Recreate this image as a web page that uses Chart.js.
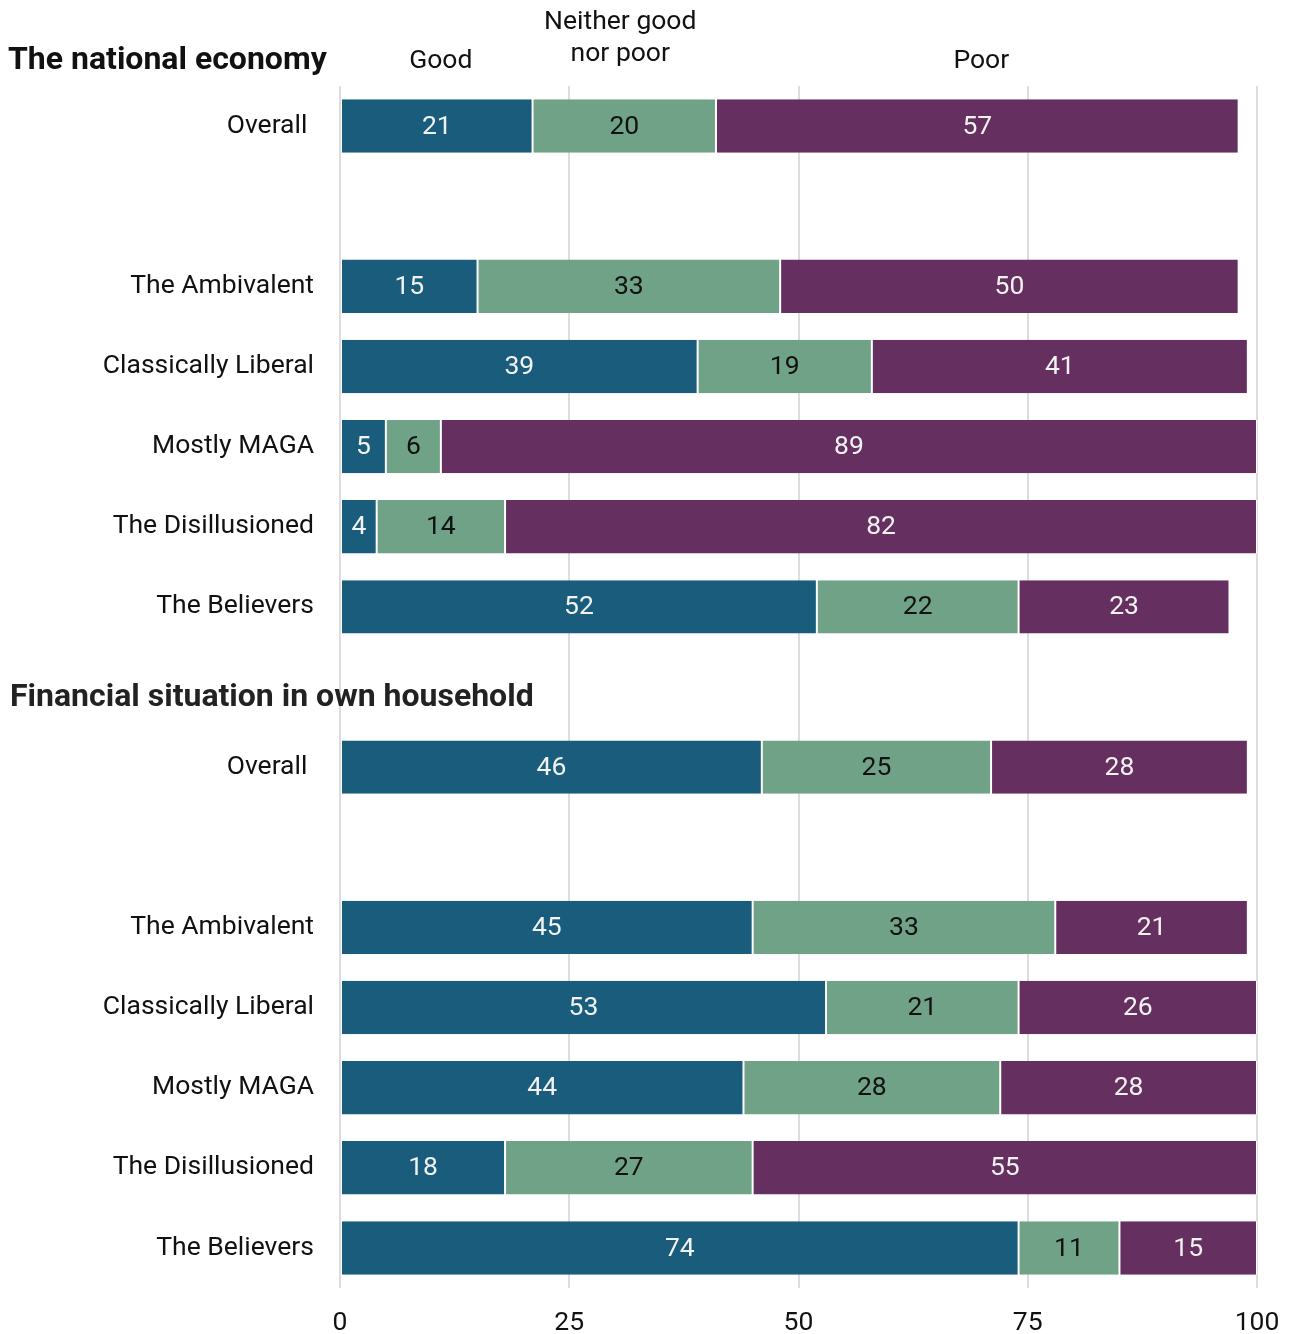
<!DOCTYPE html>
<html>
<head>
<meta charset="utf-8">
<script src="https://cdn.jsdelivr.net/npm/chart.js@4.4.1/dist/chart.umd.min.js"></script>
<style>
  html, body { margin: 0; padding: 0; background: #fff; }
  #wrap { width: 1294px; height: 1334px; position: relative; }
</style>
</head>
<body>
<div id="wrap"><canvas id="chart"></canvas></div>
<script>
// rows, empty strings are spacer rows between groups
const categories = [
  "Overall ", "", "The Ambivalent", "Classically Liberal", "Mostly MAGA", "The Disillusioned", "The Believers",
  "",
  "Overall ", "", "The Ambivalent", "Classically Liberal", "Mostly MAGA", "The Disillusioned", "The Believers"
];
const good    = [21, null, 15, 39, 5, 4, 52, null, 46, null, 45, 53, 44, 18, 74];
const neither = [20, null, 33, 19, 6, 14, 22, null, 25, null, 33, 21, 28, 27, 11];
const poor    = [57, null, 50, 41, 89, 82, 23, null, 28, null, 21, 26, 28, 55, 15];
const seriesNames = ["Good", "Neither good nor poor", "Poor"];
const headerLines = [["Good"], ["Neither good", "nor poor"], ["Poor"]];
const xTicks = [0, 25, 50, 75, 100];
const sectionTitles = ["The national economy", "Financial situation in own household"];
const sectionRows = [0, 7];

const colors = ["#195c7b", "#70a288", "#652f60"];
const labelColors = ["#f2f2f2", "#111", "#f2f2f2"];
const FONT = "Roboto, 'Noto Sans', sans-serif";
const SIZE = 26.5;

// value labels inside bars, column headers, section titles
const overlay = {
  id: "overlay",
  afterDatasetsDraw(chart) {
    const ctx = chart.ctx;
    ctx.save();
    ctx.font = SIZE + "px " + FONT;
    ctx.textAlign = "center";
    ctx.textBaseline = "middle";
    chart.data.datasets.forEach((ds, i) => {
      chart.getDatasetMeta(i).data.forEach((bar, j) => {
        const v = ds.data[j];
        if (v == null) return;
        const cx = (bar.x + bar.base) / 2;
        ctx.fillStyle = labelColors[i];
        ctx.fillText(String(v), cx, bar.y + 1);
      });
    });
    ctx.restore();
  },
  afterDraw(chart) {
    const ctx = chart.ctx;
    const y = chart.scales.y;
    ctx.save();
    // column headers over the first bar
    ctx.font = SIZE + "px " + FONT;
    ctx.fillStyle = "#111";
    ctx.textAlign = "center";
    ctx.textBaseline = "middle";
    headerLines.forEach((lines, i) => {
      const bar = chart.getDatasetMeta(i).data[0];
      const cx = (bar.x + bar.base) / 2;
      if (lines.length === 1) {
        ctx.fillText(lines[0], cx + 4, 61);
      } else {
        lines.forEach((t, k) => ctx.fillText(t, cx - 4, 22 + k * 32));
      }
    });
    // section titles
    ctx.textAlign = "left";
    ctx.font = "bold 32px " + FONT;
    ctx.fillStyle = "#111";
    ctx.fillText(sectionTitles[0], 8, 61);
    ctx.fillStyle = "#222";
    ctx.fillText(sectionTitles[1], 10, y.getPixelForValue(sectionRows[1]) + 11);
    ctx.restore();
  }
};

const makeSet = (name, data, i) => ({
  label: name,
  data: data,
  backgroundColor: colors[i],
  borderColor: "#ffffff",
  borderWidth: { left: 1, right: 1, top: 0, bottom: 0 },
  borderSkipped: false,
  barPercentage: 0.667,
  categoryPercentage: 1
});

new Chart(document.getElementById("chart"), {
  type: "bar",
  data: {
    labels: categories,
    datasets: [
      makeSet(seriesNames[0], good, 0),
      makeSet(seriesNames[1], neither, 1),
      makeSet(seriesNames[2], poor, 2)
    ]
  },
  options: {
    indexAxis: "y",
    responsive: true,
    maintainAspectRatio: false,
    animation: false,
    layout: { padding: { top: 86, right: 37, left: 0, bottom: 0 } },
    plugins: { legend: { display: false }, tooltip: { enabled: false } },
    scales: {
      x: {
        stacked: true,
        min: 0,
        max: 100,
        afterBuildTicks: s => { s.ticks = xTicks.map(v => ({ value: v })); },
        afterFit: s => { s.height = 46; s.paddingRight = 0; s.paddingLeft = 0; },
        border: { display: false },
        grid: { color: "#dddddd", lineWidth: 2, drawTicks: false },
        ticks: { color: "#111", padding: 19, font: { family: FONT, size: SIZE } }
      },
      y: {
        stacked: true,
        afterFit: s => { s.width = 340; },
        border: { display: false },
        grid: { display: false, drawTicks: false },
        ticks: { color: "#111", padding: 26, autoSkip: false, font: { family: FONT, size: SIZE } }
      }
    }
  },
  plugins: [overlay]
});
</script>
</body>
</html>
